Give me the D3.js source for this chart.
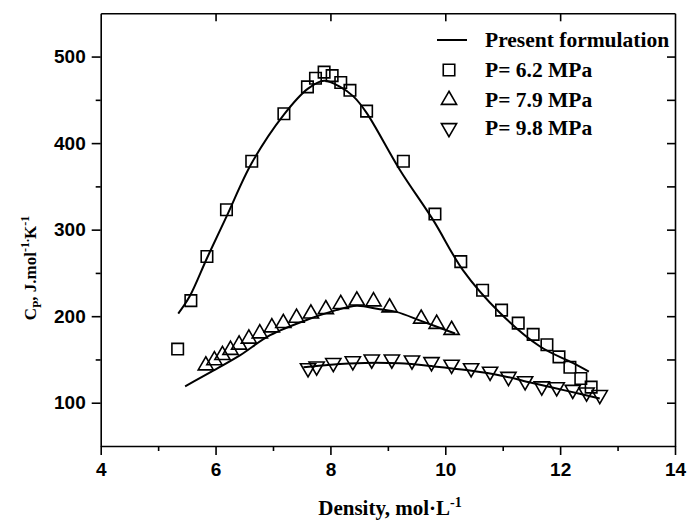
<!DOCTYPE html>
<html>
<head>
<meta charset="utf-8">
<script src="https://cdn.jsdelivr.net/npm/d3@7"></script>
<style>
  body { margin: 0; background: #fff; }
  text { fill: #000; }
</style>
</head>
<body>
<div id="graph"></div>
<script>
// measured points, P = 6.2 MPa (squares)
const sqX = [5.34, 5.57, 5.85, 6.19, 6.63, 7.19, 7.60, 7.74, 7.89, 8.03, 8.18, 8.34, 8.63, 9.27,
             9.82, 10.27, 10.65, 10.98, 11.27, 11.53, 11.77, 11.98, 12.17, 12.36, 12.54]
const sqY = [162, 218, 269, 323, 379, 434, 465, 475, 482, 478, 470, 461, 437, 379,
             318, 263, 230, 207, 192, 179, 167, 153, 141, 128, 118]

// P = 7.9 MPa (triangles)
const upX = [5.83, 5.98, 6.12, 6.26, 6.41, 6.58, 6.77, 6.98, 7.18, 7.41, 7.66, 7.92, 8.18, 8.46, 8.75, 9.03, 9.58, 9.85, 10.11]
const upY = [143, 149, 155, 161, 167, 174, 180, 187, 192, 198, 203, 208, 214, 218, 217, 210, 197, 191, 184]

// P = 9.8 MPa (inverted triangles)
const dnX = [7.61, 7.76, 8.05, 8.39, 8.72, 9.07, 9.42, 9.76, 10.11, 10.45, 10.78, 11.10, 11.39, 11.68, 11.94, 12.22, 12.46, 12.69]
const dnY = [140, 142, 146, 148, 150, 150, 149, 147, 144, 140, 136, 130, 125, 119, 118, 115, 112, 109]

// present formulation curves
const fitSqX = [5.35, 5.55, 5.85, 6.19, 6.63, 7.19, 7.61, 7.89, 8.17, 8.40, 8.63, 9.21, 9.79, 10.31, 10.95, 11.65, 12.22, 12.5]
const fitSqY = [203, 223, 267, 315, 377, 433, 463, 472, 465, 454, 435, 369, 311, 253, 204, 165, 146, 136]
const fitUpX = [5.47, 5.96, 6.43, 6.95, 7.64, 8.1, 8.46, 8.86, 9.15, 9.6, 10.17]
const fitUpY = [119, 137, 155, 178, 197, 207, 212, 208, 205, 194, 180]
const fitDnX = [7.53, 8.0, 8.6, 9.2, 9.8, 10.4, 11.0, 11.5, 12.1, 12.69]
const fitDnY = [141, 144, 146, 145.5, 142, 137.5, 131, 123, 114, 105]

const xTicks = [4, 6, 8, 10, 12, 14]
const yTicks = [100, 200, 300, 400, 500]
const legendLabels = ["Present formulation", "P= 6.2 MPa", "P= 7.9 MPa", "P= 9.8 MPa"]

const width = 691
const height = 521
const pl = 100.7, pr = 675, pt = 13.3, pb = 446

const svg = d3.select("#graph")
  .append("svg")
  .attr("width", width)
  .attr("height", height)

const x = d3.scaleLinear().domain([4, 14]).range([pl, pr])
const y = d3.scaleLinear().domain([50, 550]).range([pb, pt])

const tickFont = "bold 19px 'Liberation Sans', Arial, sans-serif"
const serif = "'Liberation Serif', 'Times New Roman', serif"

// bottom axis, major + minor outward ticks
const gx = svg.append("g").attr("transform", "translate(0," + pb + ")")
gx.call(d3.axisBottom(x).tickValues(d3.range(5, 14, 2)).tickSize(5).tickFormat(""))
gx.call(g => g.select(".domain").remove())
const gx2 = svg.append("g").attr("transform", "translate(0," + pb + ")")
  .call(d3.axisBottom(x).tickValues(xTicks).tickSize(9).tickSizeOuter(0).tickPadding(8).tickFormat(d3.format("d")))
gx2.selectAll("text").style("font", tickFont)

// left axis
const gy = svg.append("g").attr("transform", "translate(" + pl + ",0)")
gy.call(d3.axisLeft(y).tickValues([150, 250, 350, 450]).tickSize(5).tickFormat(""))
gy.call(g => g.select(".domain").remove())
const gy2 = svg.append("g").attr("transform", "translate(" + pl + ",0)")
  .call(d3.axisLeft(y).tickValues(yTicks).tickSize(9).tickSizeOuter(0).tickPadding(6).tickFormat(d3.format("d")))
gy2.selectAll("text").style("font", tickFont)

// right axis, inward ticks
svg.append("g").attr("transform", "translate(" + pr + ",0)")
  .call(d3.axisRight(y).tickValues(d3.range(100, 550, 50)).tickSize(-8).tickSizeOuter(0).tickFormat(""))

// top axis, inward ticks
svg.append("g").attr("transform", "translate(0," + pt + ")")
  .call(d3.axisTop(x).tickValues(xTicks.slice(1, -1)).tickSize(-8).tickSizeOuter(0).tickFormat(""))

svg.selectAll(".domain, .tick line").attr("stroke", "#000").attr("stroke-width", 1.6)

// axis titles
svg.append("text")
  .attr("x", 390).attr("y", 515)
  .attr("text-anchor", "middle")
  .style("font", "bold 21px " + serif)
  .html("Density, mol·L<tspan dy='-8' font-size='14'>-1</tspan>")

svg.append("text")
  .attr("transform", "translate(36,268) rotate(-90)")
  .attr("text-anchor", "middle")
  .style("font", "bold 17px " + serif)
  .html("C<tspan dy='5' font-size='12'>P</tspan><tspan dy='-5'>, J.mol</tspan><tspan dy='-7' font-size='12'>-1.</tspan><tspan dy='7'>K</tspan><tspan dy='-7' font-size='12'>-1</tspan>")

// curves
const line = d3.line().x(d => x(d[0])).y(d => y(d[1])).curve(d3.curveCatmullRom)
const fits = [[fitSqX, fitSqY], [fitUpX, fitUpY], [fitDnX, fitDnY]]
fits.forEach(f => {
  svg.append("path")
    .datum(d3.zip(f[0], f[1]))
    .attr("fill", "none").attr("stroke", "#000").attr("stroke-width", 2)
    .attr("d", line)
})

// markers
const sq = d3.symbol().type(d3.symbolSquare).size(132)()
const tri = d3.symbol().type(d3.symbolTriangle).size(100)()

function markers(xs, ys, path, rot) {
  svg.append("g").selectAll("path")
    .data(d3.zip(xs, ys))
    .join("path")
    .attr("d", path)
    .attr("transform", d => "translate(" + x(d[0]) + "," + y(d[1]) + ")" + (rot ? " rotate(180)" : ""))
    .attr("fill", "none").attr("stroke", "#000").attr("stroke-width", 1.6)
}
markers(sqX, sqY, sq, false)
markers(upX, upY, tri, false)
markers(dnX, dnY, tri, true)

// legend
const legY = [40, 70, 100, 128]
svg.append("line").attr("x1", 437).attr("x2", 467).attr("y1", legY[0]).attr("y2", legY[0])
  .attr("stroke", "#000").attr("stroke-width", 2)
svg.append("path").attr("d", sq).attr("transform", "translate(449," + legY[1] + ")")
  .attr("fill", "none").attr("stroke", "#000").attr("stroke-width", 1.6)
svg.append("path").attr("d", tri).attr("transform", "translate(449," + legY[2] + ")")
  .attr("fill", "none").attr("stroke", "#000").attr("stroke-width", 1.6)
svg.append("path").attr("d", tri).attr("transform", "translate(449," + legY[3] + ") rotate(180)")
  .attr("fill", "none").attr("stroke", "#000").attr("stroke-width", 1.6)
legendLabels.forEach((t, i) => {
  svg.append("text").attr("x", 485).attr("y", legY[i] + 7)
    .style("font", "bold 21.5px " + serif)
    .text(t)
})
</script>
</body>
</html>
